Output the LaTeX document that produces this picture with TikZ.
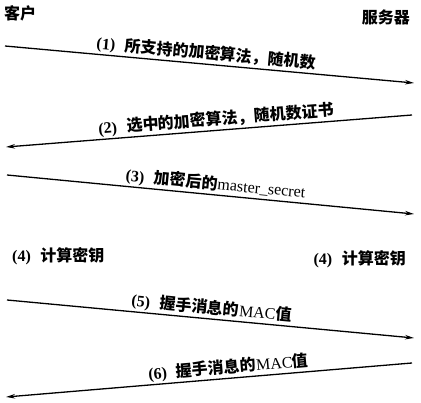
\documentclass[tikz,border=0pt]{standalone}
\usepackage{fontspec}
\setmainfont{Liberation Serif}
\newfontfamily\cjk{Noto Sans CJK SC}
\newcommand{\zh}[1]{{\cjk\bfseries #1}}
\newcommand{\num}[1]{{\bfseries(#1)}\hspace{0.6em}}
\usetikzlibrary{arrows.meta}
\tikzset{
  msg/.style={line width=1.3pt,-{Stealth[length=9pt,width=4.5pt]}},
  lbl/.style={font=\fontsize{16}{18}\selectfont, inner sep=1.5pt},
  sidelbl/.style={font=\fontsize{16}{18}\selectfont, inner sep=0pt, anchor=west}
}
\begin{document}
\begin{tikzpicture}[x=1pt,y=-1pt]
\useasboundingbox[fill=white] (0,0) rectangle (421,403);
\node[sidelbl] (client) at (4,13) {\zh{客户}};
\node[sidelbl, anchor=east] (server) at (410,17) {\zh{服务器}};

\coordinate (a1) at (5,46);   \coordinate (b1) at (414,83);
\coordinate (a2) at (412,115); \coordinate (b2) at (6,147);
\coordinate (a3) at (7,175);  \coordinate (b3) at (414,214);
\coordinate (a5) at (7,300);  \coordinate (b5) at (414,338);
\coordinate (a6) at (412,363); \coordinate (b6) at (6,397);

\draw[msg] (a1) -- node[lbl, sloped, above, pos=0.49] (m1) {\num{1}\zh{所支持的加密算法，随机数}} (b1);
\draw[msg] (a2) -- node[lbl, sloped, above, pos=0.48] (m2) {\num{2}\zh{选中的加密算法，随机数证书}} (b2);
\draw[msg] (a3) -- node[lbl, sloped, above, pos=0.51] (m3) {\num{3}\zh{加密后的}master\_secret} (b3);

\node[sidelbl] (k1) at (12,256) {\num{4}\zh{计算密钥}};
\node[sidelbl, anchor=east] (k2) at (406,259) {\num{4}\zh{计算密钥}};

\draw[msg] (a5) -- node[lbl, sloped, above, pos=0.50] (m5) {\num{5}\zh{握手消息的}MAC\zh{值}} (b5);
\draw[msg] (a6) -- node[lbl, sloped, above, pos=0.45] (m6) {\num{6}\zh{握手消息的}MAC\zh{值}} (b6);
\end{tikzpicture}
\end{document}
